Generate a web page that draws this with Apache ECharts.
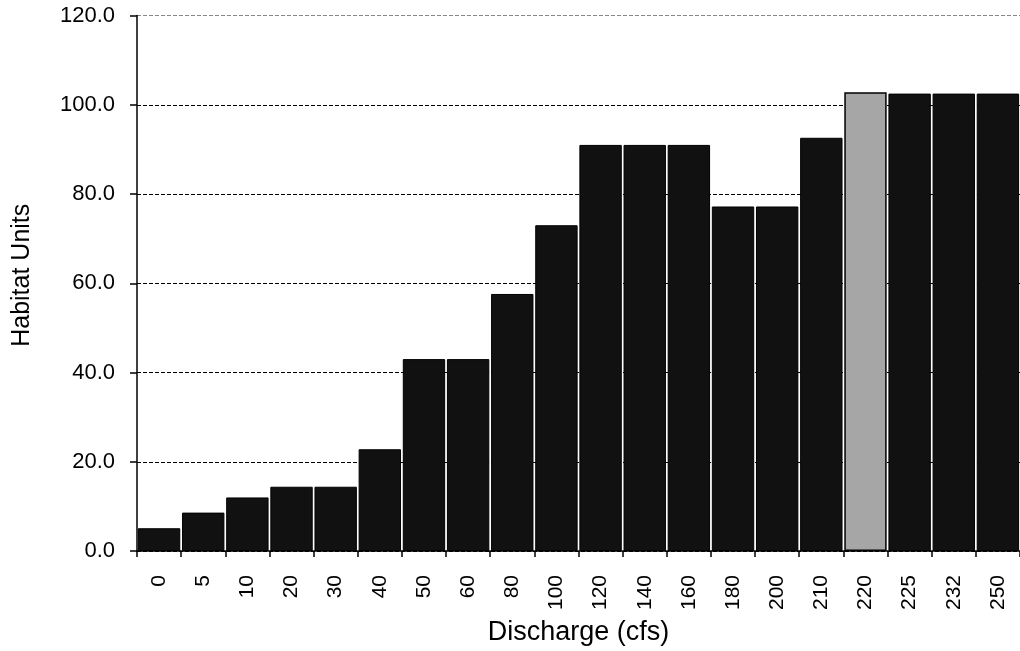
<!DOCTYPE html>
<html>
<head>
<meta charset="utf-8">
<script src="https://cdn.jsdelivr.net/npm/echarts@6/dist/echarts.min.js"></script>
<style>
html,body{margin:0;padding:0;background:#fff;}
#c{width:1020px;height:651px;}
</style>
</head>
<body>
<div id="c"></div>
<script>
const categories = ['0','5','10','20','30','40','50','60','80','100','120','140','160','180','200','210','220','225','232','250'];
const habitatUnits = [5.1, 8.6, 12.0, 14.4, 14.4, 22.8, 43.0, 43.0, 57.6, 73.0, 91.0, 91.0, 91.0, 77.2, 77.2, 92.6, 102.8, 102.5, 102.5, 102.5];
const highlightCategory = '220';
const yTicks = [0, 20, 40, 60, 80, 100, 120];

const font = 'Liberation Sans, Arial, sans-serif';
const chart = echarts.init(document.getElementById('c'), null, {renderer: 'canvas'});
chart.setOption({
  animation: false,
  backgroundColor: '#fff',
  grid: {left: 137, right: 0, top: 15.5, bottom: 93.5, containLabel: false},
  xAxis: {
    type: 'category',
    data: categories,
    name: 'Discharge (cfs)',
    nameLocation: 'middle',
    nameGap: 68,
    nameTextStyle: {fontFamily: font, fontSize: 27, color: '#000'},
    axisLine: {show: true, lineStyle: {color: '#000', width: 1.5}},
    axisTick: {show: true, alignWithLabel: false, length: 6, lineStyle: {color: '#000', width: 1.5}},
    axisLabel: {rotate: 90, fontFamily: font, fontSize: 21, color: '#000', margin: 24, interval: 0},
    splitLine: {show: false}
  },
  yAxis: {
    type: 'value',
    min: yTicks[0],
    max: yTicks[yTicks.length - 1],
    interval: 20,
    name: 'Habitat Units',
    nameLocation: 'middle',
    nameGap: 102,
    nameRotate: 90,
    nameTextStyle: {fontFamily: font, fontSize: 25, color: '#000', padding: [0, 0, 0, 16]},
    axisLine: {show: true, lineStyle: {color: '#000', width: 1.5}},
    axisTick: {show: true, length: 7, lineStyle: {color: '#000', width: 1.5}},
    axisLabel: {fontFamily: font, fontSize: 22, color: '#000', margin: 22, formatter: v => v.toFixed(1)},
    splitLine: {show: true, lineStyle: {color: ['#000','#000','#000','#000','#000','#000','#888'], type: [4, 2], width: 1}}
  },
  series: [{
    type: 'bar',
    data: habitatUnits.map((v, i) => categories[i] === highlightCategory
      ? {value: v, itemStyle: {color: '#a6a6a6', borderColor: '#000', borderWidth: 1.5}}
      : v),
    barCategoryGap: '4%',
    itemStyle: {color: '#111111', borderColor: '#000', borderWidth: 1}
  }]
});
</script>
</body>
</html>
